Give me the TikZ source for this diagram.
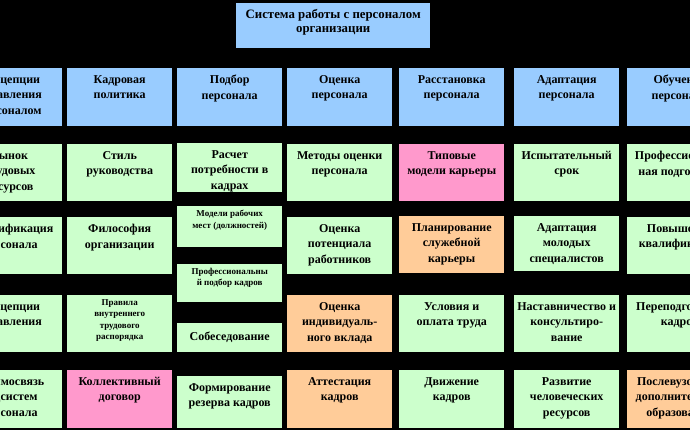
\documentclass[tikz,border=0pt]{standalone}
\usepackage{fontspec}
\setmainfont{Liberation Serif}
\usepackage{tikz}
\usetikzlibrary{positioning}
\definecolor{hdrblue}{HTML}{99CCFF}
\definecolor{cellgreen}{HTML}{CCFFCC}
\definecolor{cellpink}{HTML}{FF99CC}
\definecolor{cellorange}{HTML}{FFCC99}

\begin{document}
\begin{tikzpicture}[x=1pt, y=-1pt,
    box/.style={anchor=north west, inner sep=0pt, minimum width=105pt},
    hdr/.style={box, fill=hdrblue, minimum height=58pt},
    grn/.style={box, fill=cellgreen},
    pnk/.style={box, fill=cellpink},
    org/.style={box, fill=cellorange},
    txt/.style={align=center, inner sep=0pt, font=\bfseries\fontsize{12}{15.5}\selectfont},
    smalltxt/.style={align=center, inner sep=0pt, font=\bfseries\fontsize{9}{11.5}\selectfont},
    top text/.style={label={[txt, anchor=north, yshift=-7pt]north:#1}},
    small top/.style={label={[smalltxt, anchor=north, yshift=-4pt]north:#1}}]
    \useasboundingbox (0,0) rectangle (690,430);
    \fill[black] (0,0) rectangle (690,430);
    \clip (0,0) rectangle (690,430);

    \node[box, fill=hdrblue, minimum width=194pt, minimum height=45pt,
        label={[txt, font=\bfseries\fontsize{12.8}{14.5}\selectfont, anchor=north, yshift=-6pt]north:Система работы с персоналом\\организации}] (sys) at (236,3) {};

    \foreach \x/\n/\t in {-43/h0/{Концепции\\управления\\персоналом},
        67/h1/{Кадровая\\политика}, 177/h2/{Подбор\\персонала},
        287/h3/{Оценка\\персонала}, 399/h4/{Расстановка\\персонала},
        514/h5/{Адаптация\\персонала}, 627/h6/{Обучение\\персонала}}
        \node[hdr, top text=\t] (\n) at (\x,68) {};

    \node[grn, minimum height=57pt, top text={Рынок\\трудовых\\ресурсов}] (c0r1) at (-43,144) {};
    \node[grn, minimum height=57pt, top text={Классификация\\персонала}] (c0r2) at (-43,217) {};
    \node[grn, minimum height=57pt, top text={Концепции\\управления}] (c0r3) at (-43,295) {};
    \node[grn, minimum height=58pt, top text={Взаимосвязь\\подсистем\\персонала}] (c0r4) at (-43,370) {};

    \node[grn, minimum height=57pt, top text={Стиль\\руководства}] (c1r1) at (67,144) {};
    \node[grn, minimum height=57pt, top text={Философия\\организации}] (c1r2) at (67,217) {};
    \node[grn, minimum height=57pt, small top={Правила\\внутреннего\\трудового\\распорядка}] (c1r3) at (67,295) {};
    \node[pnk, minimum height=58pt, top text={Коллективный\\договор}] (c1r4) at (67,370) {};

    \node[grn, minimum height=49pt, top text={Расчет\\потребности в\\кадрах}] (c2r1) at (177,143) {};
    \node[grn, minimum height=41pt, small top={Модели рабочих\\мест (должностей)}] (c2r2) at (177,206) {};
    \node[grn, minimum height=38pt, small top={Профессиональны\\й подбор кадров}] (c2r3) at (177,264) {};
    \node[grn, txt, minimum height=29pt] (c2r4) at (177,323) {Собеседование};
    \node[grn, minimum height=52pt, top text={Формирование\\резерва кадров}] (c2r5) at (177,376) {};

    \node[grn, minimum height=57pt, top text={Методы оценки\\персонала}] (c3r1) at (287,144) {};
    \node[grn, minimum height=57pt, top text={Оценка\\потенциала\\работников}] (c3r2) at (287,217) {};
    \node[org, minimum height=57pt, top text={Оценка\\индивидуаль-\\ного вклада}] (c3r3) at (287,295) {};
    \node[org, minimum height=58pt, top text={Аттестация\\кадров}] (c3r4) at (287,370) {};

    \node[pnk, minimum height=57pt, top text={Типовые\\модели карьеры}] (c4r1) at (399,144) {};
    \node[org, minimum height=57pt, top text={Планирование\\служебной\\карьеры}] (c4r2) at (399,216) {};
    \node[grn, minimum height=57pt, top text={Условия и\\оплата труда}] (c4r3) at (399,295) {};
    \node[grn, minimum height=58pt, top text={Движение\\кадров}] (c4r4) at (399,370) {};

    \node[grn, minimum height=57pt, top text={Испытательный\\срок}] (c5r1) at (514,144) {};
    \node[grn, minimum height=55pt, top text={Адаптация\\молодых\\специалистов}] (c5r2) at (514,216) {};
    \node[grn, minimum height=57pt, top text={Наставничество и\\консультиро-\\вание}] (c5r3) at (514,295) {};
    \node[grn, minimum height=58pt, top text={Развитие\\человеческих\\ресурсов}] (c5r4) at (514,370) {};

    \node[grn, minimum height=57pt, top text={Профессиональ-\\ная подготовка}] (c6r1) at (627,144) {};
    \node[grn, minimum height=57pt, top text={Повышение\\квалификации}] (c6r2) at (627,217) {};
    \node[grn, minimum height=57pt, top text={Переподготовка\\кадров}] (c6r3) at (627,295) {};
    \node[org, minimum height=58pt, top text={Послевузовское\\дополнительное\\образование}] (c6r4) at (627,370) {};
\end{tikzpicture}
\end{document}
